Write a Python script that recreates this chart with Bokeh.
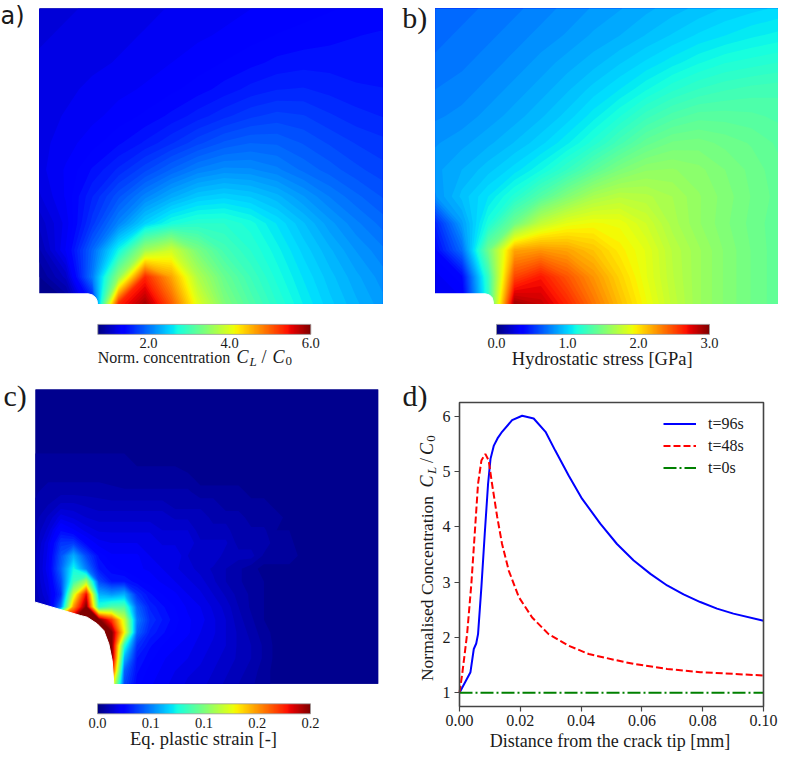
import numpy as np
from bokeh.plotting import figure
from bokeh.layouts import row, column
from bokeh.models import (Range1d, LinearColorMapper, ColorBar, FixedTicker,
                          NumeralTickFormatter, LinearAxis, BoxAnnotation)
from bokeh.core.properties import value
from bokeh.embed import file_html
from bokeh.resources import INLINE

# ----------------------------------------------------------------- data
# a) normalised lattice concentration C_L/C_0 on a 14 x 12 node grid (rows: top -> bottom)
conc_field = [
    [1.20, 1.20, 1.22, 1.24, 1.26, 1.28, 1.30, 1.32, 1.34, 1.36, 1.38, 1.40, 1.42, 1.44],
    [1.20, 1.22, 1.24, 1.26, 1.28, 1.30, 1.33, 1.35, 1.38, 1.41, 1.43, 1.45, 1.47, 1.48],
    [1.22, 1.24, 1.26, 1.28, 1.31, 1.34, 1.37, 1.41, 1.45, 1.49, 1.51, 1.51, 1.50, 1.50],
    [1.24, 1.26, 1.29, 1.32, 1.35, 1.39, 1.44, 1.50, 1.56, 1.60, 1.61, 1.58, 1.55, 1.54],
    [1.25, 1.28, 1.32, 1.37, 1.42, 1.49, 1.57, 1.65, 1.72, 1.76, 1.74, 1.68, 1.63, 1.60],
    [1.25, 1.31, 1.38, 1.46, 1.55, 1.66, 1.78, 1.88, 1.93, 1.92, 1.86, 1.79, 1.73, 1.69],
    [1.25, 1.35, 1.48, 1.62, 1.78, 1.94, 2.08, 2.15, 2.14, 2.08, 1.98, 1.90, 1.82, 1.76],
    [1.20, 1.35, 1.60, 1.85, 2.10, 2.30, 2.45, 2.50, 2.45, 2.35, 2.20, 2.06, 1.95, 1.86],
    [1.10, 1.30, 1.70, 2.10, 2.50, 2.75, 2.85, 2.85, 2.75, 2.58, 2.40, 2.22, 2.08, 1.97],
    [1.00, 1.35, 1.95, 2.70, 3.60, 3.90, 3.35, 3.02, 2.85, 2.68, 2.50, 2.34, 2.19, 2.08],
    [0.88, 1.10, 2.05, 3.50, 5.30, 4.60, 3.70, 3.25, 2.98, 2.76, 2.58, 2.42, 2.28, 2.16],
    [0.85, 0.85, 1.50, 5.30, 5.80, 5.00, 4.00, 3.40, 3.10, 2.85, 2.65, 2.48, 2.34, 2.22],
]
conc_range = [0.75, 6.0]
conc_ticks = [2.0, 4.0, 6.0]

# b) hydrostatic stress [GPa] on a 14 x 12 node grid (rows: top -> bottom)
stress_field = [
    [0.68, 0.70, 0.72, 0.74, 0.77, 0.80, 0.83, 0.86, 0.89, 0.92, 0.95, 0.98, 1.00, 1.02],
    [0.70, 0.72, 0.74, 0.77, 0.80, 0.83, 0.87, 0.90, 0.94, 0.98, 1.02, 1.05, 1.08, 1.10],
    [0.72, 0.74, 0.77, 0.80, 0.84, 0.88, 0.92, 0.97, 1.02, 1.07, 1.12, 1.16, 1.18, 1.20],
    [0.75, 0.77, 0.80, 0.84, 0.88, 0.93, 0.99, 1.05, 1.12, 1.19, 1.24, 1.27, 1.29, 1.30],
    [0.78, 0.80, 0.84, 0.88, 0.93, 0.99, 1.07, 1.16, 1.26, 1.33, 1.37, 1.37, 1.36, 1.34],
    [0.82, 0.85, 0.89, 0.94, 1.00, 1.08, 1.18, 1.30, 1.41, 1.47, 1.48, 1.45, 1.42, 1.38],
    [0.85, 0.90, 0.96, 1.03, 1.12, 1.24, 1.38, 1.50, 1.57, 1.58, 1.55, 1.50, 1.45, 1.40],
    [0.82, 0.95, 1.05, 1.18, 1.35, 1.52, 1.66, 1.72, 1.70, 1.65, 1.58, 1.52, 1.46, 1.41],
    [0.50, 0.85, 1.15, 1.45, 1.75, 1.88, 1.92, 1.90, 1.80, 1.67, 1.58, 1.51, 1.45, 1.40],
    [0.40, 0.70, 1.45, 2.20, 2.25, 2.20, 2.10, 1.97, 1.87, 1.72, 1.62, 1.53, 1.46, 1.40],
    [0.32, 0.40, 1.25, 2.50, 2.65, 2.45, 2.25, 2.05, 1.88, 1.73, 1.62, 1.53, 1.46, 1.40],
    [0.30, 0.32, 1.20, 2.90, 2.80, 2.60, 2.35, 2.12, 1.92, 1.75, 1.62, 1.53, 1.46, 1.40],
]
stress_range = [0.0, 3.0]
stress_ticks = [0.0, 1.0, 2.0, 3.0]

# c) equivalent plastic strain, in units of 0.01, 28 x 24 node grid (rows: top -> bottom)
strain_field_pct = [
    [0.4, 0.4, 0.4, 0.4, 0.4, 0.4, 0.4, 0.4, 0.4, 0.4, 0.4, 0.4, 0.4, 0.4, 0.3, 0.3, 0.3, 0.3, 0.3, 0.3, 0.3, 0.3, 0.3, 0.3, 0.3, 0.3, 0.3, 0.3],
    [0.4, 0.4, 0.4, 0.4, 0.4, 0.4, 0.4, 0.4, 0.4, 0.4, 0.4, 0.4, 0.4, 0.4, 0.3, 0.3, 0.3, 0.3, 0.3, 0.3, 0.3, 0.3, 0.3, 0.3, 0.3, 0.3, 0.3, 0.3],
    [0.4, 0.4, 0.4, 0.4, 0.4, 0.4, 0.4, 0.4, 0.4, 0.4, 0.4, 0.4, 0.4, 0.4, 0.3, 0.3, 0.3, 0.3, 0.3, 0.3, 0.3, 0.3, 0.3, 0.3, 0.3, 0.3, 0.3, 0.3],
    [0.5, 0.5, 0.5, 0.5, 0.5, 0.5, 0.5, 0.5, 0.4, 0.4, 0.4, 0.4, 0.4, 0.4, 0.3, 0.3, 0.3, 0.3, 0.3, 0.3, 0.3, 0.3, 0.3, 0.3, 0.3, 0.3, 0.3, 0.3],
    [0.5, 0.5, 0.5, 0.5, 0.5, 0.5, 0.5, 0.5, 0.5, 0.5, 0.4, 0.4, 0.4, 0.4, 0.3, 0.3, 0.3, 0.3, 0.3, 0.3, 0.3, 0.3, 0.3, 0.3, 0.3, 0.3, 0.3, 0.3],
    [0.5, 0.5, 0.5, 0.5, 0.5, 0.5, 0.5, 0.5, 0.5, 0.5, 0.4, 0.4, 0.4, 0.4, 0.4, 0.3, 0.3, 0.3, 0.3, 0.3, 0.3, 0.3, 0.3, 0.3, 0.3, 0.3, 0.3, 0.3],
    [0.6, 0.6, 0.6, 0.6, 0.6, 0.6, 0.6, 0.6, 0.5, 0.5, 0.5, 0.5, 0.4, 0.4, 0.4, 0.4, 0.3, 0.3, 0.3, 0.3, 0.3, 0.3, 0.3, 0.3, 0.3, 0.3, 0.3, 0.3],
    [0.6, 0.7, 0.7, 0.7, 0.7, 0.7, 0.7, 0.6, 0.6, 0.6, 0.6, 0.6, 0.6, 0.4, 0.4, 0.4, 0.4, 0.3, 0.3, 0.3, 0.3, 0.3, 0.3, 0.3, 0.3, 0.3, 0.3, 0.3],
    [0.7, 0.9, 0.9, 0.9, 0.9, 0.9, 0.8, 0.8, 0.8, 0.8, 0.8, 0.8, 0.8, 0.6, 0.6, 0.6, 0.6, 0.4, 0.4, 0.4, 0.3, 0.3, 0.3, 0.3, 0.3, 0.3, 0.3, 0.3],
    [0.8, 1.0, 1.3, 1.3, 1.2, 1.1, 1.1, 1.1, 1.1, 1.1, 1.1, 0.9, 0.9, 0.9, 0.9, 0.6, 0.6, 0.6, 0.6, 0.4, 0.4, 0.3, 0.3, 0.3, 0.3, 0.3, 0.3, 0.3],
    [0.9, 1.3, 1.9, 1.7, 1.5, 1.4, 1.4, 1.4, 1.4, 1.4, 1.4, 1.2, 1.2, 1.2, 0.9, 0.9, 0.9, 0.6, 0.6, 0.6, 0.4, 0.4, 0.3, 0.3, 0.3, 0.3, 0.3, 0.3],
    [1.0, 1.6, 2.7, 2.3, 1.9, 1.7, 1.7, 1.7, 1.7, 1.7, 1.5, 1.5, 1.5, 1.1, 1.1, 1.1, 0.8, 0.8, 0.8, 0.5, 0.5, 0.3, 0.3, 0.3, 0.3, 0.3, 0.3, 0.3],
    [1.1, 2.0, 3.6, 3.7, 2.6, 2.1, 2.0, 2.0, 2.0, 2.0, 1.7, 1.7, 1.7, 1.3, 1.3, 1.3, 0.9, 0.9, 0.9, 0.6, 0.6, 0.3, 0.3, 0.3, 0.3, 0.3, 0.3, 0.3],
    [1.2, 2.1, 4.2, 6.0, 4.0, 2.7, 2.3, 2.3, 2.3, 2.0, 2.0, 2.0, 1.5, 1.5, 1.5, 1.1, 1.1, 1.1, 0.7, 0.7, 0.7, 0.4, 0.4, 0.4, 0.4, 0.4, 0.4, 0.4],
    [1.2, 2.2, 4.5, 7.5, 5.0, 3.0, 2.6, 2.4, 2.3, 2.2, 2.0, 1.8, 1.6, 1.4, 1.2, 1.0, 0.8, 0.6, 0.4, 0.4, 0.4, 0.4, 0.4, 0.4, 0.4, 0.4, 0.4, 0.4],
    [1.2, 2.0, 4.0, 8.5, 11.0, 4.0, 3.0, 3.0, 2.6, 2.4, 2.2, 2.0, 1.8, 1.6, 1.3, 1.0, 0.8, 0.6, 0.5, 0.4, 0.4, 0.4, 0.4, 0.4, 0.4, 0.4, 0.4, 0.4],
    [1.1, 1.8, 3.5, 12.0, 18.0, 6.0, 5.5, 6.0, 3.5, 2.8, 2.5, 2.3, 2.0, 1.8, 1.5, 1.2, 0.9, 0.7, 0.5, 0.4, 0.4, 0.4, 0.4, 0.4, 0.4, 0.4, 0.4, 0.4],
    [1.0, 1.5, 5.0, 15.0, 20.0, 8.0, 9.0, 9.0, 4.5, 3.2, 2.8, 2.5, 2.2, 2.0, 1.7, 1.4, 1.0, 0.7, 0.5, 0.4, 0.4, 0.4, 0.4, 0.4, 0.4, 0.4, 0.4, 0.4],
    [5.0, 10.0, 18.0, 20.0, 20.0, 20.0, 17.0, 12.0, 5.0, 3.5, 3.0, 2.6, 2.3, 2.1, 1.8, 1.5, 1.1, 0.8, 0.5, 0.4, 0.4, 0.4, 0.4, 0.4, 0.4, 0.4, 0.4, 0.4],
    [20.0, 20.0, 20.0, 20.0, 20.0, 20.0, 20.0, 13.0, 4.5, 3.2, 2.8, 2.5, 2.3, 2.0, 1.8, 1.5, 1.2, 0.9, 0.6, 0.4, 0.4, 0.4, 0.4, 0.4, 0.4, 0.4, 0.4, 0.4],
    [20.0, 20.0, 20.0, 20.0, 20.0, 20.0, 20.0, 8.0, 3.5, 2.8, 2.5, 2.3, 2.1, 1.9, 1.7, 1.5, 1.2, 1.0, 0.7, 0.4, 0.4, 0.4, 0.4, 0.4, 0.4, 0.4, 0.4, 0.4],
    [20.0, 20.0, 20.0, 20.0, 20.0, 20.0, 20.0, 6.0, 3.0, 2.6, 2.3, 2.1, 2.0, 1.8, 1.6, 1.4, 1.2, 1.0, 0.7, 0.4, 0.4, 0.4, 0.4, 0.4, 0.4, 0.4, 0.4, 0.4],
    [20.0, 20.0, 20.0, 20.0, 20.0, 20.0, 18.0, 4.5, 2.8, 2.4, 2.2, 2.0, 1.8, 1.7, 1.5, 1.3, 1.1, 0.9, 0.6, 0.4, 0.4, 0.4, 0.4, 0.4, 0.4, 0.4, 0.4, 0.4],
    [15.0, 15.0, 15.0, 15.0, 15.0, 15.0, 14.0, 4.0, 2.6, 2.3, 2.1, 1.9, 1.7, 1.6, 1.4, 1.2, 1.0, 0.8, 0.6, 0.4, 0.4, 0.4, 0.4, 0.4, 0.4, 0.4, 0.4, 0.4],
]
strain_range = [0.0, 0.2]
strain_ticks = [0.0, 0.05, 0.10, 0.15, 0.20]
strain_tick_labels = ["0.0", "0.1", "0.1", "0.2", "0.2"]

# d) concentration profiles ahead of the crack tip
dist_96 = [0.0, 0.0036, 0.0047, 0.0055, 0.0061, 0.0072, 0.0083, 0.0094, 0.0102,
           0.0113, 0.0125, 0.0140, 0.0173, 0.0206, 0.0244, 0.0283, 0.0315, 0.0359,
           0.0403, 0.0463, 0.0518, 0.0573, 0.0628, 0.0683, 0.0737, 0.0792, 0.0847,
           0.0901, 0.1]
conc_96 = [1.00, 1.37, 1.79, 1.89, 2.06, 2.91, 3.87, 4.78, 5.23,
           5.47, 5.60, 5.72, 5.93, 6.01, 5.96, 5.72, 5.38, 4.93,
           4.51, 4.06, 3.69, 3.39, 3.15, 2.94, 2.78, 2.64, 2.52,
           2.43, 2.30]
dist_48 = [0.0, 0.0009, 0.0025, 0.0039, 0.0050, 0.0061, 0.0072, 0.0085, 0.0096,
           0.0107, 0.0124, 0.0140, 0.0162, 0.0195, 0.0239, 0.0293, 0.0359, 0.0425,
           0.0513, 0.0573, 0.0683, 0.0792, 0.0901, 0.1]
conc_48 = [1.00, 1.34, 2.06, 2.97, 3.87, 4.78, 5.20, 5.32, 5.20,
           4.78, 4.18, 3.69, 3.21, 2.73, 2.36, 2.06, 1.85, 1.70,
           1.59, 1.52, 1.43, 1.37, 1.34, 1.31]
dist_0 = [0.0, 0.1]
conc_0 = [1.0, 1.0]
x_ticks = [0.0, 0.02, 0.04, 0.06, 0.08, 0.1]
y_ticks = [1, 2, 3, 4, 5, 6]
X0, X1, Y0, Y1 = 0.0, 0.1, 0.75, 6.25      # axes limits of panel d

# specimen geometry (page pixels): field boxes and notch outlines
box_a = (39, 303.3, 343, 295)      # left, bottom, width, height
box_b = (435, 303.3, 342.3, 295)
box_c = (35, 683.3, 342.7, 294.3)
notch_a_x = [37, 88, 92, 95, 96.5, 97, 97, 37]
notch_a_y = [293.3, 293.3, 294.5, 297, 300, 303.3, 306, 306]
notch_b_x = [433, 485, 489, 491.5, 492.5, 493, 493, 433]
notch_b_y = [293.3, 293.3, 294.5, 297, 300, 303.3, 306, 306]
notch_c_x = [33, 35, 80, 86.7, 96.7, 103.3, 108.3, 111.7, 113.3, 113.3, 33]
notch_c_y = [601.7, 601.7, 615, 616.7, 623.3, 630, 643.3, 660, 683.3, 686, 686]

# ----------------------------------------------------------------- style / layout
SERIF = "Liberation Serif"
TXT = "#1a1a1a"
N_BANDS = 80
TOP_H = 374          # height of the upper row
PAGE_W, PAGE_H = 781, 762
D_LEFT = 438         # left edge of panel d's canvas
FL, FB, FW, FH = 459, 706, 304, 304        # axes box of panel d in page pixels


def jet(n=256):
    t = np.linspace(0, 1, n)
    r = np.interp(t, [0, 0.35, 0.66, 0.89, 1], [0, 0, 1, 1, 0.5])
    g = np.interp(t, [0, 0.125, 0.375, 0.64, 0.91, 1], [0, 0, 1, 1, 0, 0])
    b = np.interp(t, [0, 0.11, 0.34, 0.65, 1], [0.5, 1, 1, 0, 0])
    return ["#%02x%02x%02x" % (int(round(255 * R)), int(round(255 * G)), int(round(255 * B)))
            for R, G, B in zip(r, g, b)]


JET = jet()


def field_figure(x0, x1, y0, y1):
    # data units = screen pixels of the page (y downward, stored negated)
    p = figure(width=int(round(x1 - x0)), height=int(round(y1 - y0)),
               x_range=Range1d(x0, x1), y_range=Range1d(-y1, -y0),
               x_axis_type=None, y_axis_type=None, output_backend="svg",
               toolbar_location=None, min_border=0)
    p.outline_line_color = None
    return p


def txt(p, x, y, s, size, style="normal", align="left", font=SERIF, angle=0.0, base=True):
    """Text glyph; y is the baseline (base=True) or the centre line of the text."""
    px = float(size.replace("px", ""))
    ym = y - 0.27 * px if base else y
    p.text(x=[x], y=[-ym], text=[s], text_font=value(font), text_font_size=size,
           text_font_style=style, text_align=align, text_baseline="middle",
           text_color=TXT, angle=angle)


def add_field(p, data, rng, box, nx, ny):
    """Filled contours of the node grid, drawn as stacked super-level regions."""
    left, bottom, w, h = box
    z = np.array(data[::-1], dtype=float)
    ny_, nx_ = z.shape
    xs = left + np.arange(nx_) * w / (nx_ - 1)
    ys = -bottom + np.arange(ny_) * h / (ny_ - 1)
    lo, hi = rng
    step = (hi - lo) / N_BANDS
    top = max(hi, z.max()) + step
    colors = jet(N_BANDS)
    for k in range(N_BANDS):
        lv = lo + k * step if k else min(lo, z.min()) - step
        if lv >= z.max():
            break
        p.contour(x=xs, y=ys, z=z, levels=[lv, top], fill_color=colors[k], line_color=None)
    p.patch(x=nx, y=[-v for v in ny], fill_color="white", line_color="white", line_width=1)
    return LinearColorMapper(palette=JET, low=lo, high=hi)


def add_cbar(p, mapper, ticks, loc, overrides=None):
    cb = ColorBar(color_mapper=mapper, orientation="horizontal", width=213, height=10,
                  location=loc, padding=0, ticker=FixedTicker(ticks=ticks),
                  formatter=NumeralTickFormatter(format="0.0"),
                  major_label_text_font=SERIF, major_label_text_font_size="14.5px",
                  major_label_text_color=TXT, label_standoff=4,
                  major_tick_line_color=None, minor_tick_line_color=None,
                  bar_line_color="#9a9a9a", bar_line_width=0.8,
                  background_fill_alpha=0, border_line_color=None)
    if overrides:
        cb.major_label_overrides = overrides
    p.add_layout(cb)


# ----------------------------------------------------------------- a)
pa = field_figure(0, 390, 0, TOP_H)
ma = add_field(pa, conc_field, conc_range, box_a, notch_a_x, notch_a_y)
add_cbar(pa, ma, conc_ticks, (97.3, 23.1))
txt(pa, 0, 22, "a)", "24px", font="DejaVu Sans")
txt(pa, 97.3, 361, "Norm. concentration", "16px")
txt(pa, 236, 361, "C", "18px", style="italic")
txt(pa, 249, 364.5, "L", "13px", style="italic")
txt(pa, 261, 361, "/", "18px")
txt(pa, 272, 361, "C", "18px", style="italic")
txt(pa, 285, 364.5, "0", "13px")

# ----------------------------------------------------------------- b)
pb = field_figure(390, PAGE_W, 0, TOP_H)
mb = add_field(pb, stress_field, stress_range, box_b, notch_b_x, notch_b_y)
add_cbar(pb, mb, stress_ticks, (106, 23.1))
txt(pb, 401.7, 25, "b)", "30px")
txt(pb, 601.7, 363.3, "Hydrostatic stress [GPa]", "18.5px", align="center")

# ----------------------------------------------------------------- c) (+ labels of d)
pc = field_figure(0, D_LEFT, TOP_H, PAGE_H)
mc = add_field(pc, [[v * 0.01 for v in r] for r in strain_field_pct], strain_range,
               box_c, notch_c_x, notch_c_y)
add_cbar(pc, mc, strain_ticks, (97, 31.7),
         overrides={t: s for t, s in zip(strain_ticks, strain_tick_labels)})
txt(pc, 3, 403.3, "c)", "30px")
txt(pc, 203, 743.3, "Eq. plastic strain [-]", "18.5px", align="center")
# panel d label and its rotated y-axis title (with a math part), centre-anchored
txt(pc, 402, 403.3, "d)", "30px")
YL = [("Normalised Concentration", 426.5, 588, "17.5px", "normal"),
      ("C", 426.5, 481, "18px", "italic"),
      ("L", 430.5, 470, "13px", "italic"),
      ("/", 426.5, 460, "18px", "normal"),
      ("C", 426.5, 448.5, "18px", "italic"),
      ("0", 430.5, 438, "13px", "normal")]
for s, px, py, size, style in YL:
    txt(pc, px, py, s, size, style=style, angle=np.pi / 2, align="center", base=False)

# ----------------------------------------------------------------- d)
def dx(px):
    return X0 + (px - FL) / FW * (X1 - X0)


def dy(py):
    return Y0 + (FB - py) / FH * (Y1 - Y0)


pdd = figure(width=PAGE_W - D_LEFT, height=PAGE_H - TOP_H,
             x_range=Range1d(dx(D_LEFT), dx(PAGE_W)), y_range=Range1d(dy(PAGE_H), dy(TOP_H)),
             x_axis_type=None, y_axis_type=None, output_backend="svg",
             toolbar_location=None, min_border=0)
pdd.outline_line_color = None
pdd.line(dist_96, conc_96, line_color="#0000ff", line_width=2, legend_label="t=96s")
pdd.line(dist_48, conc_48, line_color="#ff0000", line_width=2, line_dash="7 3",
         legend_label="t=48s")
pdd.line(dist_0, conc_0, line_color="#008000", line_width=2, line_dash="13 3 2 3",
         legend_label="t=0s")
pdd.add_layout(BoxAnnotation(left=X0, right=X1, bottom=Y0, top=Y1, fill_alpha=0,
                             line_color="#444444", line_width=1.6, line_alpha=1))


def style_axis(ax):
    ax.axis_line_color = None
    ax.major_tick_line_color = "#444444"
    ax.major_tick_line_width = 1.2
    ax.major_tick_out = 5
    ax.major_tick_in = 0
    ax.minor_tick_line_color = None
    ax.major_label_text_font = SERIF
    ax.major_label_text_font_size = "16px"
    ax.major_label_text_color = TXT


xax = LinearAxis(fixed_location=Y0, ticker=FixedTicker(ticks=x_ticks),
                 formatter=NumeralTickFormatter(format="0.00"),
                 axis_label="Distance from the crack tip [mm]")
style_axis(xax)
xax.major_label_standoff = 3
xax.axis_label_text_font = SERIF
xax.axis_label_text_font_size = "18px"
xax.axis_label_text_font_style = "normal"
xax.axis_label_text_color = TXT
xax.axis_label_standoff = 2
pdd.add_layout(xax, "below")

yax = LinearAxis(fixed_location=X0, ticker=FixedTicker(ticks=y_ticks),
                 formatter=NumeralTickFormatter(format="0"))
style_axis(yax)
yax.major_label_standoff = 4
pdd.add_layout(yax, "left")

lg = pdd.legend[0]
lg.location = (651 - D_LEFT, PAGE_H - (FB - FH) - 87)
lg.margin = 0
lg.padding = 12
lg.spacing = 3
lg.glyph_width = 33
lg.glyph_height = 19
lg.label_height = 19
lg.label_standoff = 12
lg.label_text_font = SERIF
lg.label_text_font_size = "16px"
lg.label_text_color = TXT
lg.background_fill_alpha = 0
lg.border_line_alpha = 0

layout = column(row(pa, pb), row(pc, pdd))
open("out.html", "w").write(file_html(layout, INLINE))
